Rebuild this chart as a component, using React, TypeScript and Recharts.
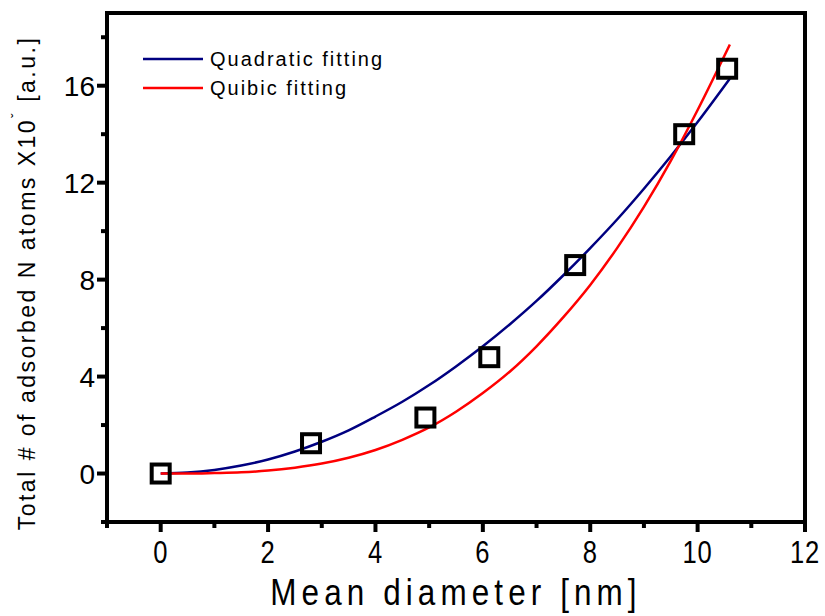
import React from 'react';
import { ComposedChart, Line, Scatter, XAxis, YAxis } from 'recharts';

// measured points (mean diameter nm, adsorbed N atoms)
const diameters = [0, 2.8, 4.93, 6.12, 7.72, 9.75, 10.55];
const atoms = [0, 1.25, 2.31, 4.8, 8.6, 14.0, 16.7];

// fitted curves
const fitX = [0, 0.5, 1, 1.5, 2, 2.5, 3, 3.5, 4, 4.5, 5, 5.5, 6, 6.5, 7, 7.5, 8, 8.5, 9, 9.5, 10, 10.6];
const quadY = [0, 0.04, 0.15, 0.33, 0.58, 0.91, 1.31, 1.78, 2.35, 2.96, 3.65, 4.42, 5.25, 6.15, 7.12, 8.18, 9.3, 10.48, 11.75, 13.09, 14.5, 16.29];
const cubicY = [0, 0.0, 0.02, 0.05, 0.12, 0.24, 0.41, 0.65, 0.97, 1.39, 1.9, 2.55, 3.32, 4.2, 5.25, 6.45, 7.78, 9.3, 11.0, 12.9, 15.0, 17.7];

const xTicks = [-1, 0, 1, 2, 3, 4, 5, 6, 7, 8, 9, 10, 11, 12];
const yTicks = [-2, 0, 2, 4, 6, 8, 10, 12, 14, 16, 18];
const xLabelled = [0, 2, 4, 6, 8, 10, 12];
const yLabelled = [0, 4, 8, 12, 16];

const points = diameters.map((x, i) => ({ x, y: atoms[i] }));
const quadData = fitX.map((x, i) => ({ x, y: quadY[i] }));
const cubicData = fitX.map((x, i) => ({ x, y: cubicY[i] }));

const sans = "'Liberation Sans', Arial, sans-serif";

const BottomTick = (props: any) => {
  const { x, y, payload } = props;
  const major = xLabelled.includes(payload.value);
  return (
    <g>
      <line x1={x} y1={y} x2={x} y2={y + (major ? 10 : 6)} stroke="#000" strokeWidth={4} />
      {major && (
        <text transform={`translate(${x},${y + 41}) scale(0.8,1)`} textAnchor="middle" fontFamily={sans} fontSize={32} letterSpacing={1} fill="#000">
          {payload.value}
        </text>
      )}
    </g>
  );
};

const LeftTick = (props: any) => {
  const { x, y, payload } = props;
  const major = yLabelled.includes(payload.value);
  return (
    <g>
      <line x1={x} y1={y} x2={x - (major ? 10 : 6)} y2={y} stroke="#000" strokeWidth={4} />
      {major && (
        <text x={x - 12} y={y} dy="0.36em" textAnchor="end" fontFamily={sans} fontSize={28} fill="#000">
          {payload.value}
        </text>
      )}
    </g>
  );
};

const RightTick = (props: any) => {
  const { x, y } = props;
  return <line x1={x} y1={y} x2={x + 5} y2={y} stroke="#000" strokeWidth={3} />;
};

const Square = (props: any) => {
  const { cx, cy } = props;
  return <rect x={cx - 9} y={cy - 9} width={18} height={18} fill="none" stroke="#000" strokeWidth={4} />;
};

const legendItems = [
  { name: 'Quadratic fitting', color: '#000080' },
  { name: 'Quibic fitting', color: '#ff0000' },
];

// legend drawn inside the plot, anchored to the top axis box
const PlotLegend = (p: any) => {
  const vb = p.viewBox;
  const lx = vb.x + 36;
  const ly = vb.y + 47;
  return (
    <g>
      {legendItems.map((it, i) => (
        <g key={it.name}>
          <line x1={lx} y1={ly + i * 29} x2={lx + 60} y2={ly + i * 29} stroke={it.color} strokeWidth={2.5} />
          <text x={lx + 67} y={ly + i * 29} dy="0.36em" fontFamily={sans} fontSize={20} letterSpacing={2} fill="#000">
            {it.name}
          </text>
        </g>
      ))}
    </g>
  );
};

const axisLine = { stroke: '#000', strokeWidth: 4, strokeLinecap: 'square' as const };

export default function App() {
  return (
    <div style={{ position: 'absolute', left: 0, top: 0, width: 825, height: 616, background: '#fff' }}>
      <ComposedChart width={825} height={616} margin={{ top: 12, right: 19, bottom: 0, left: 0 }}>
        <XAxis
          dataKey="x"
          type="number"
          domain={[-1, 12]}
          ticks={xTicks}
          interval={0}
          allowDataOverflow
          height={94}
          tickSize={0}
          tickMargin={0}
          tickLine={false}
          axisLine={axisLine}
          tick={<BottomTick />}
          label={(p: any) => {
            const vb = p.viewBox;
            return (
              <text transform={`translate(${vb.x + vb.width / 2},${vb.y + 83}) scale(0.85,1)`} textAnchor="middle" fontFamily={sans} fontSize={37} letterSpacing={6} fill="#000">
                Mean diameter [nm]
              </text>
            );
          }}
        />
        <XAxis
          xAxisId="top"
          orientation="top"
          type="number"
          domain={[-1, 12]}
          height={1}
          tick={false}
          tickLine={false}
          axisLine={axisLine}
          label={(p: any) => <PlotLegend {...p} />}
        />
        <YAxis
          dataKey="y"
          type="number"
          domain={[-2, 19]}
          ticks={yTicks}
          interval={0}
          allowDataOverflow
          width={107}
          tickSize={0}
          tickMargin={0}
          tickLine={false}
          axisLine={axisLine}
          tick={<LeftTick />}
          label={() => {
            const cx = 27;
            const cy = 283;
            return (
              <text x={cx} y={cy} transform={`rotate(-90 ${cx} ${cy})`} textAnchor="middle" dominantBaseline="central" fontFamily={sans} fontSize={23} letterSpacing={2.5} fill="#000">
                Total # of adsorbed N atoms X10
                <tspan fontSize={14} dy={-10}>ˇ</tspan>
                <tspan dy={10}> [a.u.]</tspan>
              </text>
            );
          }}
        />
        <YAxis
          yAxisId="r"
          orientation="right"
          type="number"
          domain={[-2, 19]}
          ticks={yTicks}
          interval={0}
          width={1}
          tickSize={0}
          tickMargin={0}
          tickLine={false}
          axisLine={axisLine}
          tick={<RightTick />}
        />
        <Scatter data={points} dataKey="y" shape={<Square />} isAnimationActive={false} legendType="none" />
        <Line data={quadData} dataKey="y" type="monotone" stroke="#000080" strokeWidth={2.5} dot={false} isAnimationActive={false} />
        <Line data={cubicData} dataKey="y" type="monotone" stroke="#ff0000" strokeWidth={2.5} dot={false} isAnimationActive={false} />
      </ComposedChart>
    </div>
  );
}
